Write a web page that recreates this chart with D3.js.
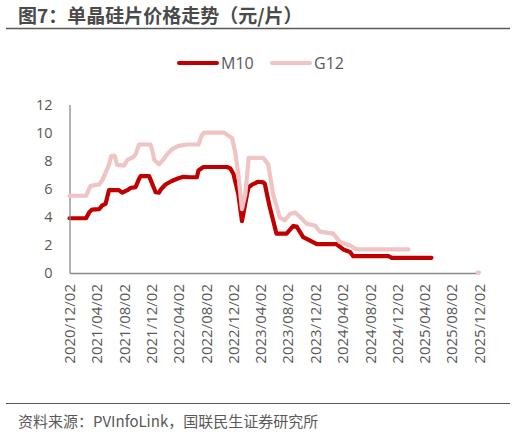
<!DOCTYPE html>
<html>
<head>
<meta charset="utf-8">
<title>单晶硅片价格走势</title>
<script src="https://d3js.org/d3.v7.min.js"></script>
<style>
    * { margin: 0; padding: 0; }
    body { width: 516px; height: 435px; background: #fff; overflow: hidden; }
    text { font-family: "Open Sans", "Noto Sans CJK SC", sans-serif; fill: #595959; }
    .cjk { font-family: "Noto Sans CJK SC", sans-serif; }
    .axis path, .axis line { stroke: #898989; }
    path.series { fill: none; stroke-width: 4.2px; stroke-linejoin: round; stroke-linecap: round; }
</style>
</head>
<body>
<script>
// 数据（元/片）
var m10Dates = ["2020/12/02","2021/02/14","2021/02/28","2021/03/13","2021/04/13","2021/04/27","2021/05/12","2021/05/27",
    "2021/07/10","2021/07/25","2021/08/17","2021/08/31","2021/09/23","2021/10/08","2021/10/15","2021/11/22","2021/12/06",
    "2021/12/21","2022/01/05","2022/01/13","2022/02/03","2022/03/03","2022/04/02","2022/04/24","2022/05/23","2022/06/23",
    "2022/06/30","2022/07/22","2022/11/04","2022/11/19","2022/12/03","2022/12/25","2023/01/10","2023/02/02","2023/02/09",
    "2023/02/24","2023/03/23","2023/04/15","2023/04/22","2023/05/07","2023/05/14","2023/06/13","2023/07/28","2023/08/27",
    "2023/09/11","2023/10/10","2023/11/10","2023/12/10","2024/03/07","2024/04/06","2024/05/06","2024/05/20","2024/10/24",
    "2024/11/08","2025/05/04"];
var m10Values = [3.9,3.9,4.33,4.52,4.55,4.81,4.93,5.9,
    5.9,5.72,5.9,6.05,6.12,6.7,6.9,6.9,6.35,
    5.75,5.72,5.95,6.3,6.55,6.75,6.85,6.82,6.82,
    7.3,7.55,7.55,7.45,7.05,5.6,3.7,5.65,6.1,
    6.3,6.5,6.45,6.35,5.2,4.7,2.8,2.8,3.35,
    3.3,2.55,2.3,2.05,2.05,1.68,1.5,1.2,1.2,
    1.08,1.08];

var g12Dates = ["2020/12/02","2021/02/14","2021/02/28","2021/03/06","2021/04/13","2021/04/27","2021/05/27","2021/06/06",
    "2021/06/22","2021/07/02","2021/08/02","2021/08/17","2021/09/12","2021/09/23","2021/10/08","2021/11/28","2021/12/06",
    "2021/12/15","2022/01/05","2022/01/26","2022/02/10","2022/03/03","2022/04/02","2022/05/09","2022/06/30","2022/07/15",
    "2022/07/25","2022/10/23","2022/11/27","2022/12/11","2022/12/25","2023/01/10","2023/01/25","2023/02/09","2023/04/15",
    "2023/05/07","2023/05/29","2023/06/28","2023/07/20","2023/08/12","2023/09/04","2023/09/26","2023/10/26","2023/12/02",
    "2023/12/24","2024/02/22","2024/03/22","2024/05/06","2024/06/05","2025/01/22","2025/06/01","2025/11/26","2025/12/02"];
var g12Values = [5.5,5.5,6.0,6.2,6.3,6.6,7.7,8.35,
    8.35,7.7,7.65,8.05,8.25,8.45,9.15,9.15,8.75,
    8.05,7.75,8.1,8.45,8.8,9.05,9.15,9.15,9.8,
    10.0,10.0,9.6,8.6,7.0,4.55,5.6,8.2,8.2,
    7.75,5.6,3.95,3.75,4.2,4.3,4.0,3.5,3.38,
    2.95,2.8,2.2,1.96,1.68,1.68,null,0.03,0.03];

var xTickLabels = ["2020/12/02","2021/04/02","2021/08/02","2021/12/02","2022/04/02","2022/08/02","2022/12/02",
    "2023/04/02","2023/08/02","2023/12/02","2024/04/02","2024/08/02","2024/12/02","2025/04/02","2025/08/02","2025/12/02"];
var yTicks = [0, 2, 4, 6, 8, 10, 12];

var seriesNames = ["M10", "G12"];
var seriesColors = ["#C00000", "#EEC4C4"];

var parseDate = d3.timeParse("%Y/%m/%d");

function toRows(dates, values) {
    return dates.map(function (d, i) { return { date: parseDate(d), value: values[i] }; });
}
var series = [toRows(m10Dates, m10Values), toRows(g12Dates, g12Values)];

var svg = d3.select("body").append("svg").attr("width", 516).attr("height", 435);

// 标题
svg.append("text").attr("class", "cjk")
    .attr("x", 18).attr("y", 23)
    .style("font-size", "19px").style("font-weight", "bold").style("fill", "#4a4a4a")
    .text("图7：单晶硅片价格走势（元/片）");
svg.append("line").attr("x1", 6).attr("x2", 510).attr("y1", 28.5).attr("y2", 28.5)
    .attr("stroke", "#595959").attr("stroke-width", 1.5);

var x = d3.scaleTime()
    .domain([parseDate("2020/12/02"), parseDate("2025/12/02")])
    .range([69.5, 479]);
var y = d3.scaleLinear().domain([0, 12]).range([273, 104.5]);

// 坐标轴
var yAxis = d3.axisLeft(y).tickValues(yTicks).tickSize(0).tickPadding(17);
svg.append("g").attr("class", "axis y").attr("transform", "translate(69.5,0)").call(yAxis)
    .call(function (g) { g.select(".domain").attr("stroke-width", 1.3); })
    .selectAll("text").style("font-size", "14.5px");

var xAxis = d3.axisBottom(x).tickValues(xTickLabels.map(parseDate)).tickSize(0)
    .tickFormat(d3.timeFormat("%Y/%m/%d"));
svg.append("g").attr("class", "axis x").attr("transform", "translate(0,273)").call(xAxis)
    .call(function (g) { g.select(".domain").attr("stroke-width", 1.3); })
    .selectAll("text")
    .style("font-size", "15px")
    .attr("text-anchor", "end")
    .attr("transform", "rotate(-90)")
    .attr("x", -11).attr("y", 0).attr("dy", "0.35em");

// 折线
var line = d3.line()
    .defined(function (d) { return d.value != null; })
    .x(function (d) { return x(d.date); })
    .y(function (d) { return y(d.value); });

svg.selectAll("path.series").data(series).enter().append("path")
    .attr("class", "series")
    .attr("stroke", function (d, i) { return seriesColors[i]; })
    .attr("d", line)
    .lower();
svg.select(".axis.x").raise();
svg.selectAll("path.series").filter(function (d, i) { return i === 0; }).raise();

// 图例
var legendX = [177, 270];
var legend = svg.selectAll("g.legend").data(seriesNames).enter().append("g")
    .attr("class", "legend")
    .attr("transform", function (d, i) { return "translate(" + legendX[i] + ",63)"; });
legend.append("line").attr("x1", 2).attr("x2", 40)
    .attr("stroke", function (d, i) { return seriesColors[i]; })
    .attr("stroke-width", 4).attr("stroke-linecap", "round");
legend.append("text").attr("x", 44).attr("dy", "0.35em").style("font-size", "16px").text(function (d) { return d; });

// 资料来源
svg.append("line").attr("x1", 6).attr("x2", 510).attr("y1", 403.5).attr("y2", 403.5)
    .attr("stroke", "#595959").attr("stroke-width", 1.2);
svg.append("text").attr("class", "cjk")
    .attr("x", 18).attr("y", 427)
    .style("font-size", "15px")
    .text("资料来源：PVInfoLink，国联民生证券研究所");
</script>
</body>
</html>
